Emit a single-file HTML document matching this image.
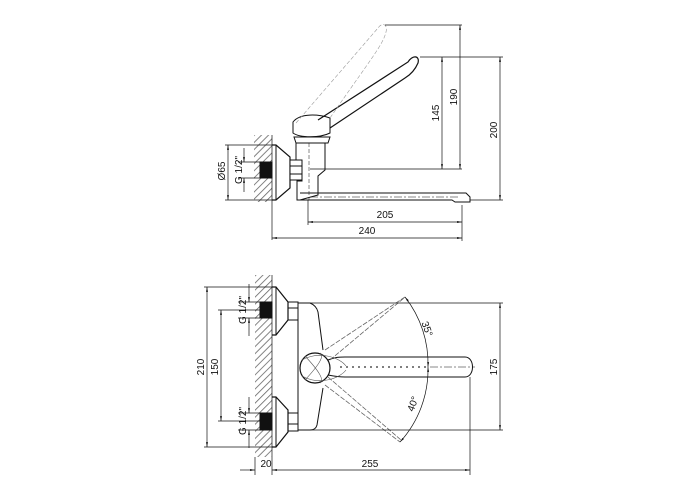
<!DOCTYPE html>
<html><head><meta charset="utf-8"><style>
html,body{margin:0;padding:0;background:#fff;}
svg{display:block;}
text{font-family:"Liberation Sans",sans-serif;font-size:10px;fill:#111;}
</style></head><body>
<svg width="700" height="500" viewBox="0 0 700 500" xmlns="http://www.w3.org/2000/svg">
<defs>
<pattern id="h" width="5" height="5" patternUnits="userSpaceOnUse" patternTransform="rotate(45)">
<rect width="5" height="5" fill="#fff"/><line x1="0" y1="0" x2="0" y2="5" stroke="#666" stroke-width="1.6"/>
</pattern>
<marker id="a" viewBox="0 0 10 10" refX="10" refY="5" markerWidth="7" markerHeight="7" orient="auto-start-reverse">
<path d="M0,3 L10,5 L0,7 z" fill="#111"/></marker>
</defs>
<g fill="none" stroke="#111" stroke-width="1">
<!-- ===== TOP VIEW ===== -->
<rect x="254" y="135" width="18" height="67" fill="url(#h)" stroke="none"/>
<line x1="272" y1="135" x2="272" y2="240" stroke-width="0.7"/>
<rect x="260" y="162" width="12" height="16" fill="#111"/>
<path d="M272,145 L276,145 L290,157 L290,188 L276,200 L272,200" stroke-width="1.2"/>
<line x1="276" y1="145" x2="276" y2="200"/>
<rect x="290" y="160" width="12" height="20" fill="#fff"/>
<line x1="290" y1="166" x2="302" y2="166"/><line x1="290" y1="174" x2="302" y2="174"/>
<path d="M296,143 L325,143 L325,170 L318,176 L318,195 L300,200 L297,200 L297,181 L302,181 L302,160 L296,160 Z"/>
<line x1="309" y1="143" x2="309" y2="200" stroke-width="0.5" stroke-dasharray="4,2"/>
<path d="M300,193 L466,193 L470,197 L470,202 L455,202 L452,200 L300,200"/>
<line x1="310" y1="197" x2="460" y2="197" stroke-width="0.5" stroke-dasharray="8,2,2,2"/>
<!-- handle base -->
<path d="M293,122 C300,113 318,114 330,118 L330,133 C320,138 300,138 293,133 Z"/>
<path d="M294,137 L330,137 L328,143 L296,143 Z"/>
<!-- lever -->
<path d="M318,120 L408,62 C412,55 420,55 418,63 C415,70 410,75 405,78 L330,128" stroke-width="1.2"/>
<!-- ghost lever -->
<path d="M296,123 L378,28 C382,22 388,24 386,32 C383,45 370,60 330,118" stroke="#999" stroke-width="0.6" stroke-dasharray="4,2"/>
<!-- dimensions top -->
<g stroke-width="0.7">
<line x1="385" y1="25" x2="462" y2="25"/>
<line x1="420" y1="57" x2="503" y2="57"/>
<line x1="310" y1="169" x2="462" y2="169"/>
<line x1="470" y1="200" x2="503" y2="200"/>
<line x1="442" y1="57" x2="442" y2="169" marker-start="url(#a)" marker-end="url(#a)"/>
<line x1="460" y1="25" x2="460" y2="169" marker-start="url(#a)" marker-end="url(#a)"/>
<line x1="500" y1="57" x2="500" y2="200" marker-start="url(#a)" marker-end="url(#a)"/>
<line x1="308" y1="200" x2="308" y2="225"/>
<line x1="462" y1="205" x2="462" y2="241"/>
<line x1="308" y1="222" x2="462" y2="222" marker-start="url(#a)" marker-end="url(#a)"/>
<line x1="272" y1="238" x2="462" y2="238" marker-start="url(#a)" marker-end="url(#a)"/>
<line x1="225" y1="145" x2="272" y2="145"/><line x1="225" y1="200" x2="272" y2="200"/>
<line x1="228" y1="145" x2="228" y2="200" marker-start="url(#a)" marker-end="url(#a)"/>
<line x1="238" y1="162" x2="260" y2="162"/><line x1="238" y1="178" x2="260" y2="178"/>
<line x1="244" y1="148" x2="244" y2="162" marker-end="url(#a)"/>
<line x1="244" y1="192" x2="244" y2="178" marker-end="url(#a)"/>
</g>
<!-- ===== FRONT VIEW ===== -->
<rect x="255" y="275" width="17" height="182" fill="url(#h)" stroke="none"/>
<line x1="272" y1="275" x2="272" y2="475" stroke-width="0.7"/>
<rect x="260" y="302" width="12" height="16" fill="#111"/>
<rect x="260" y="413" width="12" height="17" fill="#111"/>
<path d="M272,287 L276,287 L288,302 L288,320 L276,335 L272,335" stroke-width="1.2"/>
<line x1="276" y1="287" x2="276" y2="335"/>
<path d="M272,397 L276,397 L288,410 L288,432 L276,447 L272,447" stroke-width="1.2"/>
<line x1="276" y1="397" x2="276" y2="447"/>
<rect x="288" y="302" width="10" height="18"/><line x1="288" y1="308" x2="298" y2="308"/>
<rect x="288" y="413" width="10" height="18"/><line x1="288" y1="424" x2="298" y2="424"/>
<path d="M298,303 L310,303 C315,305 317,308 318,312 L323,350"/>
<path d="M323,388 L317,425 C316,429 313,430 310,430 L298,430"/>
<line x1="298" y1="303" x2="298" y2="430"/>
<circle cx="315" cy="368" r="15" stroke-width="1.2"/>
<path d="M328,360 C335,357 340,357 345,357 L465,357 C475,357 475,377 465,377 L345,377 C338,377 333,376 328,375"/>
<g stroke="#555" stroke-width="0.6">
<path d="M302,360 C320,350 340,358 346,366 M302,376 C320,386 340,378 346,370 M305,356 C318,370 325,380 320,383 M305,380 C318,366 325,356 320,353"/>
</g>
<line x1="340" y1="367" x2="428" y2="367" stroke="#555" stroke-width="1.5" stroke-dasharray="2,4"/>
<line x1="430" y1="367" x2="475" y2="367" stroke-width="0.5" stroke-dasharray="8,2,2,2"/>
<path d="M325,350 L405,297 M330,360 L404,298" stroke="#666" stroke-width="0.8" stroke-dasharray="5,1.5"/>
<path d="M325,385 L400,442 M328,377 L401,440" stroke="#666" stroke-width="0.8" stroke-dasharray="5,1.5"/>
<g stroke-width="0.7">
<path d="M405,297 A108,108 0 0 1 428,367" marker-start="url(#a)" marker-end="url(#a)"/>
<path d="M428,367 A108,108 0 0 1 400,442" marker-start="url(#a)" marker-end="url(#a)"/>
<line x1="310" y1="303" x2="503" y2="303"/>
<line x1="310" y1="430" x2="503" y2="430"/>
<line x1="500" y1="303" x2="500" y2="430" marker-start="url(#a)" marker-end="url(#a)"/>
<line x1="204" y1="287" x2="272" y2="287"/><line x1="204" y1="447" x2="272" y2="447"/>
<line x1="207" y1="287" x2="207" y2="447" marker-start="url(#a)" marker-end="url(#a)"/>
<line x1="218" y1="310" x2="260" y2="310"/><line x1="218" y1="421" x2="260" y2="421"/>
<line x1="221" y1="310" x2="221" y2="421" marker-start="url(#a)" marker-end="url(#a)"/>
<line x1="238" y1="302" x2="260" y2="302"/><line x1="238" y1="318" x2="260" y2="318"/>
<line x1="238" y1="413" x2="260" y2="413"/><line x1="238" y1="430" x2="260" y2="430"/>
<line x1="249" y1="284" x2="249" y2="302" marker-end="url(#a)"/>
<line x1="249" y1="336" x2="249" y2="318" marker-end="url(#a)"/>
<line x1="249" y1="397" x2="249" y2="413" marker-end="url(#a)"/>
<line x1="249" y1="448" x2="249" y2="430" marker-end="url(#a)"/>
<line x1="255" y1="457" x2="255" y2="475"/>
<line x1="470" y1="377" x2="470" y2="475"/>
<line x1="240" y1="470" x2="255" y2="470" marker-end="url(#a)"/>
<line x1="272" y1="470" x2="470" y2="470" marker-start="url(#a)" marker-end="url(#a)"/>
</g>
</g>
<!-- labels -->
<text x="385" y="218" text-anchor="middle">205</text>
<text x="367" y="234" text-anchor="middle">240</text>
<text transform="translate(439,113) rotate(-90)" text-anchor="middle">145</text>
<text transform="translate(457,97) rotate(-90)" text-anchor="middle">190</text>
<text transform="translate(497,130) rotate(-90)" text-anchor="middle">200</text>
<text transform="translate(225,171) rotate(-90)" text-anchor="middle">Ø65</text>
<text transform="translate(242,170) rotate(-90)" text-anchor="middle">G 1/2"</text>
<text transform="translate(204,367) rotate(-90)" text-anchor="middle">210</text>
<text transform="translate(218,367) rotate(-90)" text-anchor="middle">150</text>
<text transform="translate(497,367) rotate(-90)" text-anchor="middle">175</text>
<text transform="translate(246,310) rotate(-90)" text-anchor="middle">G 1/2"</text>
<text transform="translate(246,421) rotate(-90)" text-anchor="middle">G 1/2"</text>
<text transform="translate(424,330) rotate(70)" text-anchor="middle">35°</text>
<text transform="translate(416,405) rotate(-70)" text-anchor="middle">40°</text>
<text x="266" y="467" text-anchor="middle">20</text>
<text x="370" y="467" text-anchor="middle">255</text>
</svg>
</body></html>
